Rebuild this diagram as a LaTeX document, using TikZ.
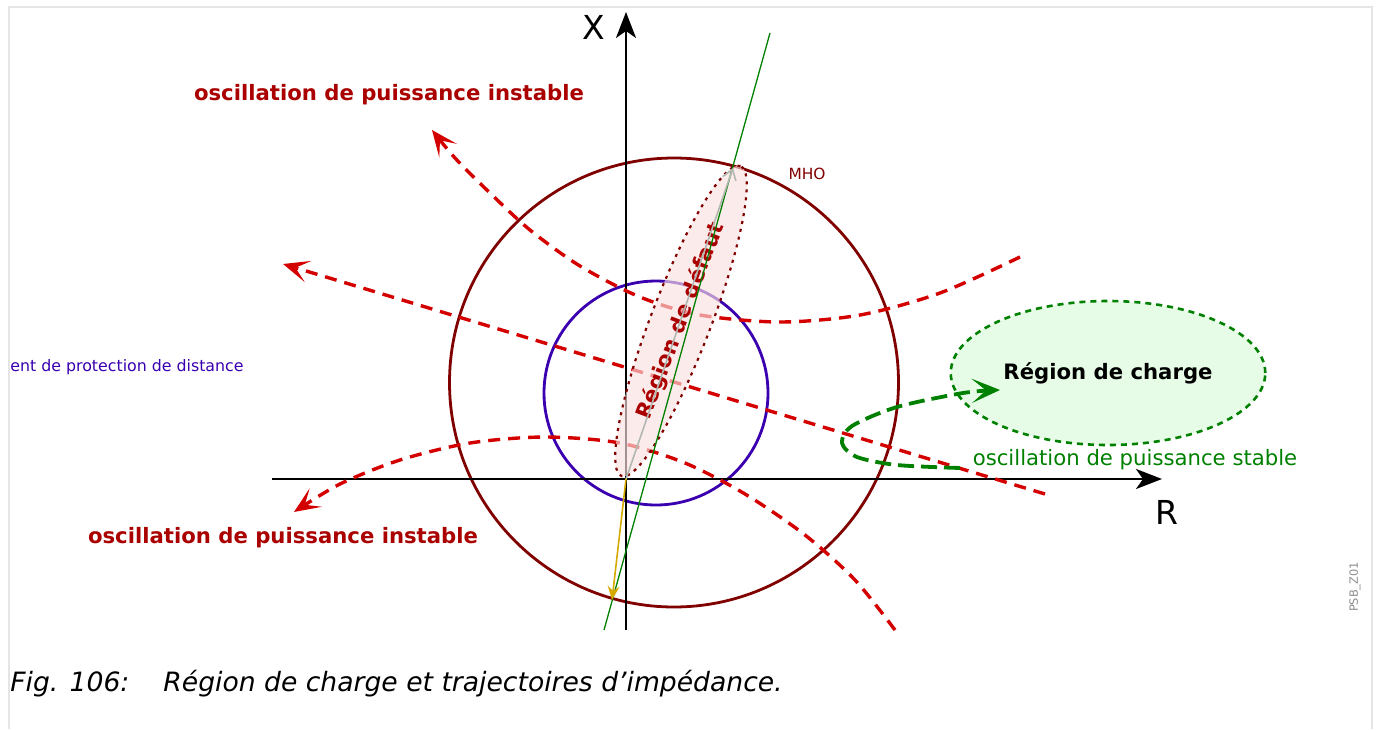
\documentclass[tikz,border=0pt]{standalone}
\usepackage{fontspec}
\setmainfont{DejaVu Sans}
\usetikzlibrary{arrows.meta,shapes.geometric}

\definecolor{mhored}{HTML}{800000}
\definecolor{txtred}{HTML}{AA0000}
\definecolor{swingred}{HTML}{D40000}
\definecolor{zoneblue}{HTML}{3A00B0}
\definecolor{loadgreen}{HTML}{008000}
\definecolor{faultfill}{HTML}{FBE0E0}
\definecolor{loadfill}{HTML}{E6FCE6}
\definecolor{goldline}{HTML}{D4AA00}
\definecolor{arrowgray}{HTML}{B0B8B0}

\tikzset{
  axis/.style={line width=1.2pt, -{Stealth[length=13pt,width=10pt,inset=3.5pt]}},
  swing/.style={swingred, line width=1.7pt, dash pattern=on 6pt off 4pt,
    -{Stealth[length=13pt,width=11pt,inset=6.5pt]}},
  stableswing/.style={loadgreen, line width=1.9pt, dash pattern=on 8pt off 3.5pt,
    -{Stealth[length=14pt,width=12pt,inset=7pt]}},
  swinglabel/.style={txtred, font=\fontsize{10.6}{12}\selectfont\bfseries},
  zonecircle/.style={line width=1.4pt},
}

\begin{document}
\begin{tikzpicture}[x=0.5pt,y=-0.5pt]
  \useasboundingbox (0,0) rectangle (1377,729);
  % frame
  \draw[black!10, line width=1pt] (9,729) -- (9,7) -- (1372,7) -- (1372,729);

  % load region
  \node[ellipse, draw=loadgreen, fill=loadfill, line width=1.3pt,
        dash pattern=on 3pt off 2.5pt, minimum width=155pt, minimum height=72pt,
        font=\fontsize{10.6}{12}\selectfont\bfseries] (load) at (1108,373) {Région de charge};

  % zones
  \draw[mhored, zonecircle] (674,382.5) circle[radius=224.5];
  \draw[zoneblue, zonecircle] (656,393) circle[radius=112];

  % axes
  \coordinate (O) at (626,479);
  \coordinate (Xbot) at (626,630);
  \coordinate (Xtop) at (626,12);
  \coordinate (Rleft) at (272,479);
  \coordinate (Rright) at (1162,479);
  \draw[axis] (Xbot) -- (Xtop);
  \draw[axis] (Rleft) -- (Rright);
  \node[font=\fontsize{16.5}{19}\selectfont] (xlab) at (594,27) {X};
  \node[font=\fontsize{16.5}{19}\selectfont] (rlab) at (1167,512) {R};

  % unstable power swings
  \draw[swing] plot[smooth] coordinates {(1020,257) (940,293) (860,315) (780,322)
    (700,315) (640,297) (580,266) (530,230) (490,193) (455,158) (432,130)};
  \draw[swing] (1045,494) -- (283,264);
  \draw[swing] plot[smooth] coordinates {(895,630) (855,580) (805,535) (745,494)
    (685,463) (620,443) (545,437) (470,443) (400,460) (340,484) (294,512)};

  % stable power swing
  \draw[stableswing] plot[smooth] coordinates {(960,468) (897,465) (857,457)
    (842,443) (852,426) (897,407) (963,393) (1000,390)};

  % fault region
  \node[ellipse, draw=mhored, fill=faultfill, fill opacity=0.65, text opacity=1,
        line width=1.1pt, dash pattern=on 1.5pt off 2.5pt, minimum width=166pt,
        minimum height=30pt, rotate=69, text=txtred,
        font=\fontsize{10.8}{12}\selectfont\bfseries] (fault) at (681,321) {Région de défaut};

  % line impedance and vectors
  \coordinate (Zl) at (604,630);
  \coordinate (Zh) at (770,33);
  \coordinate (Ztip) at (733,168);
  \coordinate (Ytip) at (612,600);
  \draw[loadgreen, line width=0.65pt] (Zl) -- (Zh);
  \draw[arrowgray, line width=0.8pt, -{Straight Barb[length=5pt,width=7pt]}] (O) -- (Ztip);
  \draw[goldline, line width=0.8pt, -{Stealth[length=7pt,width=6pt,inset=2.5pt]}] (O) -- (Ytip);

  % labels
  \node[swinglabel] (unstabletop) at (389,95) {oscillation de puissance instable};
  \node[swinglabel] (unstablebot) at (283,538) {oscillation de puissance instable};
  \node[loadgreen, font=\fontsize{10.6}{12}\selectfont] (stablelab) at (1135,460) {oscillation de puissance stable};
  \node[mhored, font=\fontsize{7.7}{9}\selectfont] (mholab) at (807,174) {MHO};
  \node[zoneblue, anchor=west, inner sep=0pt, font=\fontsize{7.9}{9}\selectfont] (zonelab) at (10,367) {ent de protection de distance};
  \node[black!45, rotate=90, font=\fontsize{5.7}{7}\selectfont] (figid) at (1355,587) {PSB\_Z01};
  \node[anchor=west, inner sep=0pt, font=\fontsize{13.3}{15}\selectfont\itshape] (caption) at (10,684)
    {Fig. 106:\hspace{17pt}Région de charge et trajectoires d’impédance.};
\end{tikzpicture}
\end{document}
